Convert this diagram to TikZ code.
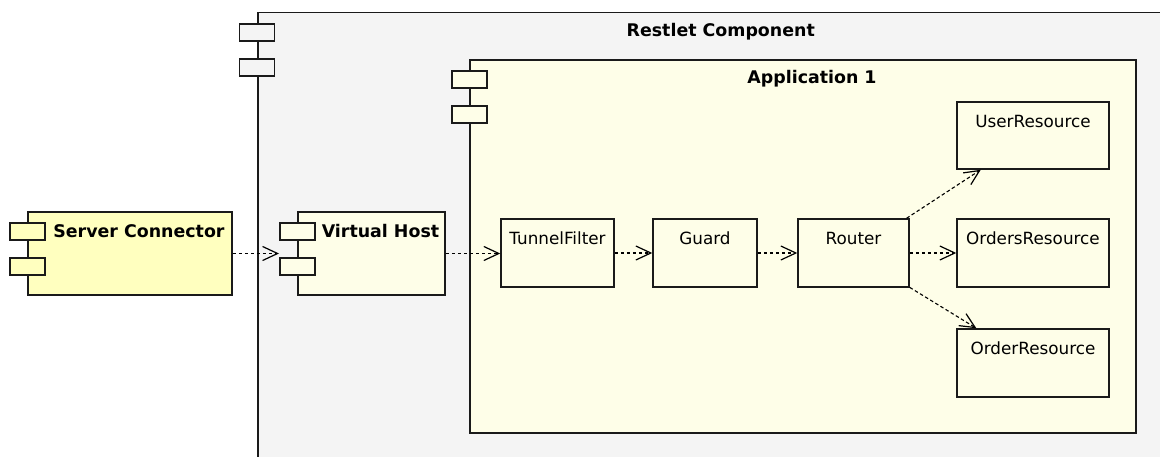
\documentclass[tikz,border=0pt]{standalone}
\usepackage{fontspec}
\setmainfont{DejaVu Sans}
\usetikzlibrary{arrows.meta,calc}

\definecolor{compgray}{HTML}{F4F4F4}
\definecolor{appyellow}{HTML}{FEFEE8}
\definecolor{connyellow}{HTML}{FFFFBF}
\definecolor{edge}{HTML}{1A1A1A}

\tikzset{
  box/.style={draw=edge, line width=1.5pt, fill=appyellow, inner sep=0pt},
  port/.style={draw=edge, line width=1.5pt, minimum width=35pt, minimum height=17pt, inner sep=0pt},
  boxtext/.style={font=\fontsize{16.8}{20}\selectfont, anchor=base, yshift=-26pt, inner sep=0pt},
  comptext/.style={boxtext, font=\fontsize{17.4}{20}\selectfont\bfseries, xshift=9pt},
  dep/.style={line width=1.1pt, dash pattern=on 3.5pt off 2.5pt,
    -{Straight Barb[length=15pt,width=14pt,line width=1.2pt]}},
}

\begin{document}
\begin{tikzpicture}[x=1pt, y=-1pt]
\clip (0,0) rectangle (1160,457);
\fill[white] (0,0) rectangle (1160,457);

% outer component, runs off the page
\node[box, fill=compgray, minimum width=908pt, minimum height=480pt, anchor=north west,
  label={[comptext, yshift=1pt]north:Restlet Component}] (rc) at (257,12) {};

% application
\node[box, minimum width=666pt, minimum height=373pt,
  label={[comptext, yshift=2pt]north:Application 1}] (app) at (803,246.5) {};

\node[box, fill=connyellow, minimum width=204pt, minimum height=83pt,
  label={[comptext]north:Server Connector}] (sc) at (130,253.5) {};
\node[box, minimum width=147pt, minimum height=83pt,
  label={[comptext]north:Virtual Host}] (vh) at (371.5,253.5) {};

\foreach \c/\f in {rc/compgray, app/appyellow, sc/connyellow, vh/appyellow}
	{
		\node[port, fill=\f] (\c-p1) at ($(\c.north west)+(0,20.5)$) {};
		\node[port, fill=\f] (\c-p2) at ($(\c.north west)+(0,55.5)$) {};
	}

% inner chain
\node[box, minimum width=113pt, minimum height=68pt, label={[boxtext]north:TunnelFilter}] (tf) at (557.5,253) {};
\node[box, minimum width=104pt, minimum height=68pt, label={[boxtext]north:Guard}] (guard) at (705,253) {};
\node[box, minimum width=111pt, minimum height=68pt, label={[boxtext]north:Router}] (router) at (853.5,253) {};

\node[box, minimum width=152pt, minimum height=67pt, label={[boxtext]north:UserResource}] (userres) at (1033,135.5) {};
\node[box, minimum width=152pt, minimum height=68pt, label={[boxtext]north:OrdersResource}] (ordersres) at (1033,253) {};
\node[box, minimum width=152pt, minimum height=68pt, label={[boxtext]north:OrderResource}] (orderres) at (1033,363) {};

\draw[dep] (sc.east) -- (sc.east -| vh-p1.west);
\draw[dep] (vh.east) -- (vh.east -| tf.west);
\draw[dep] (tf) -- (guard);
\draw[dep] (guard) -- (router);

\foreach \r in {userres, ordersres, orderres}
	{
		\draw[dep] (router) -- (\r);
	}

\end{tikzpicture}
\end{document}
